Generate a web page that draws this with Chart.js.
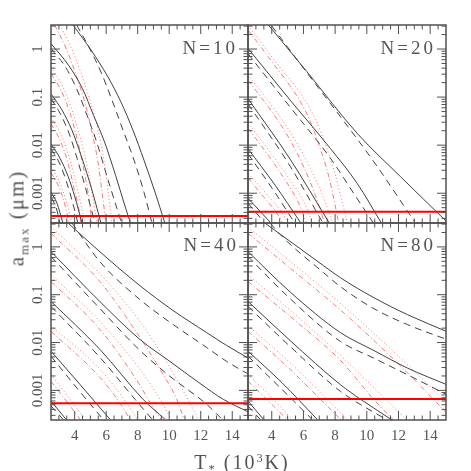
<!DOCTYPE html>
<html><head><meta charset="utf-8">
<script src="https://cdn.jsdelivr.net/npm/chart.js@4.4.0/dist/chart.umd.min.js"></script>
<style>
html,body{margin:0;padding:0;background:#fff;}
#wrap{position:relative;width:471px;height:471px;overflow:hidden;background:#fff;}
canvas{position:absolute;left:0;top:0;}
.lab{position:absolute;font-family:"Liberation Serif",serif;color:#555;white-space:nowrap;}
.nlab{font-size:19px;line-height:19px;letter-spacing:3px;}
.lab sub,.lab sup{font-size:0.62em;line-height:0;}
.lab sub{vertical-align:-0.35em;}
.lab sup{vertical-align:0.55em;}
#ytitle{left:17px;top:218px;font-size:21px;line-height:21px;letter-spacing:2px;transform:translate(-50%,-50%) rotate(-90deg);}
#xtitle{left:242px;top:462px;font-size:20px;line-height:20px;letter-spacing:2px;transform:translate(-50%,-50%);}
</style></head><body>
<div id="wrap">
<canvas id="c10" width="471" height="471"></canvas>
<canvas id="c20" width="471" height="471"></canvas>
<canvas id="c40" width="471" height="471"></canvas>
<canvas id="c80" width="471" height="471"></canvas>
<div class="lab nlab" style="right:233px;top:38px;">N=10</div>
<div class="lab nlab" style="right:35px;top:38px;">N=20</div>
<div class="lab nlab" style="right:232px;top:235px;">N=40</div>
<div class="lab nlab" style="right:35px;top:235px;">N=80</div>
<div class="lab" id="ytitle">a<sub>max</sub> (μm)</div>
<div class="lab" id="xtitle">T<sub>*</sub> (10<sup>3</sup>K)</div>
</div>
<script>
// ---- axis ticks ----
const X_TICKS = [4, 6, 8, 10, 12, 14];
const X_TICK_LABELS = ['4', '6', '8', '10', '12', '14'];
const Y_TICKS = [0.001, 0.01, 0.1, 1];
const Y_TICK_LABELS = ['0.001', '0.01', '0.1', '1'];
const X_MIN = 2.5, X_MAX = 15, Y_MIN = 2.4e-4, Y_MAX = 3.16;

// ---- horizontal red lines (one per panel) ----
const RED_LEVELS = { n10: 3.35e-4, n20: 4.1e-4, n40: 5.4e-4, n80: 6.6e-4 };

// ---- N=10 curves: [T (10^3 K), a_max (um)] ----
const n10Solid = [
  [[3.90,3.16],[5.04,0.953],[6.12,0.261],[6.94,0.0787],[7.70,0.0205],[8.40,0.00487],[9.10,0.00105],[9.73,0.000237]],
  [[2.5,1.29],[3.62,0.457],[4.50,0.149],[5.20,0.0416],[5.90,0.01155],[6.60,0.00234],[7.25,0.000471],[7.55,0.000237]],
  [[2.5,0.117],[3.20,0.0536],[3.83,0.0205],[4.40,0.00619],[4.91,0.00187],[5.42,0.000487],[5.67,0.000237]],
  [[2.5,0.01064],[3.07,0.00536],[3.58,0.00226],[4.02,0.000826],[4.47,0.000237]],
  [[2.5,0.00105],[2.88,0.000619],[3.26,0.000237]]
];
const n10Dashed = [
  [[4.13,3.16],[4.97,1.0],[5.67,0.332],[6.37,0.0866],[7.07,0.0205],[7.77,0.00487],[8.40,0.00105],[8.91,0.000237]],
  [[2.5,1.01],[3.42,0.422],[4.16,0.14],[4.78,0.0422],[5.40,0.01155],[6.03,0.00237],[6.68,0.000487],[6.98,0.000237]],
  [[2.5,0.0923],[3.07,0.0464],[3.64,0.0178],[4.15,0.00536],[4.59,0.00169],[5.04,0.000487],[5.29,0.000237]],
  [[2.5,0.00838],[3.01,0.00443],[3.45,0.00187],[3.83,0.000714],[4.21,0.000237]],
  [[2.5,0.000826],[2.82,0.000511],[3.07,0.000237]]
];
const n10Dotted = [
  [[3.05,3.16],[3.71,1.21],[4.34,0.365],[4.97,0.0866],[5.48,0.0205],[5.86,0.00487],[6.12,0.00115],[6.37,0.000237]],
  [[2.5,0.42],[3.20,0.178],[3.83,0.0536],[4.40,0.0127],[4.85,0.00301],[5.17,0.000787],[5.42,0.000237]],
  [[2.5,0.038],[3.20,0.0147],[3.71,0.00487],[4.15,0.00133],[4.47,0.000443],[4.66,0.000237]],
  [[2.5,0.0035],[3.07,0.00161],[3.45,0.000714],[3.83,0.000237]]
];
const n10DashDot = [
  [[2.73,3.16],[3.45,1.05],[4.09,0.287],[4.66,0.075],[5.10,0.0187],[5.48,0.00443],[5.74,0.00105],[5.99,0.000237]],
  [[2.5,0.31],[3.13,0.14],[3.71,0.0464],[4.21,0.01155],[4.59,0.00301],[4.91,0.000787],[5.10,0.000237]],
  [[2.5,0.028],[3.13,0.01155],[3.58,0.00422],[3.96,0.00127],[4.28,0.000443],[4.40,0.000237]],
  [[2.5,0.0027],[3.01,0.00133],[3.39,0.000562],[3.64,0.000237]]
];

// ---- N=20 curves ----
const n20Solid = [
  [[3.79,3.16],[6.22,0.337],[9.40,0.0175],[12.14,0.00219],[15.06,0.000252]],
  [[2.5,1.03],[5.16,0.0866],[7.70,0.00853],[9.40,0.00159],[10.88,0.000252]],
  [[2.5,0.0923],[5.16,0.00511],[7.60,0.000249]],
  [[2.5,0.00838],[4.21,0.00147],[5.80,0.000249]],
  [[2.5,0.000787],[3.90,0.000249]]
];
const n20Dashed = [
  [[4.0,3.01],[6.22,0.321],[8.34,0.0389],[10.45,0.00449],[13.03,0.000252]],
  [[2.5,0.798],[5.16,0.0619],[7.70,0.00536],[9.29,0.000866],[10.37,0.000252]],
  [[2.5,0.0724],[5.16,0.00365],[7.20,0.000249]],
  [[2.5,0.00659],[4.02,0.00127],[5.42,0.000249]],
  [[2.5,0.000619],[3.52,0.000249]]
];
const n20Dotted = [
  [[2.5,3.1],[4.42,0.457],[5.91,0.108],[6.75,0.0353],[7.49,0.00838],[8.02,0.00234],[8.45,0.00065],[8.76,0.000249]],
  [[2.5,0.29],[4.21,0.0536],[5.48,0.0127],[6.43,0.00332],[7.20,0.000908],[7.83,0.000249]],
  [[2.5,0.029],[3.90,0.00715],[5.16,0.00187],[6.05,0.00065],[6.56,0.000249]],
  [[2.5,0.0026],[3.58,0.00105],[4.53,0.000443],[5.04,0.000249]]
];
const n20DashDot = [
  [[2.5,2.5],[4.21,0.443],[5.55,0.11],[6.37,0.0348],[7.07,0.00826],[7.58,0.00237],[7.96,0.00065],[8.21,0.000249]],
  [[2.5,0.225],[4.02,0.0487],[5.16,0.0127],[6.05,0.00332],[6.75,0.000908],[7.32,0.000249]],
  [[2.5,0.0225],[3.77,0.00619],[4.85,0.00187],[5.67,0.00065],[6.18,0.000249]],
  [[2.5,0.0021],[3.45,0.000866],[4.28,0.000402],[4.66,0.000249]]
];

// ---- N=40 curves ----
const n40Solid = [
  [[3.58,3.16],[5.61,0.787],[8.15,0.154],[10.26,0.0464],[12.38,0.0161],[13.65,0.00866],[15.06,0.00464]],
  [[2.5,0.798],[5.61,0.0715],[8.15,0.01155],[10.05,0.00402],[11.95,0.0014],[13.43,0.00065],[15.06,0.000348]],
  [[2.5,0.0724],[5.61,0.00715],[8.34,0.00065],[9.73,0.000249]],
  [[2.5,0.00659],[4.34,0.00133],[6.24,0.000249]],
  [[2.5,0.000598],[3.45,0.000249]]
];
const n40Dashed = [
  [[3.83,3.16],[5.61,0.487],[8.15,0.0787],[10.26,0.0237],[12.38,0.00787],[13.65,0.00402],[15.06,0.00215]],
  [[2.5,0.628],[5.61,0.0511],[8.15,0.00681],[10.05,0.00196],[12.38,0.000511],[13.35,0.000249]],
  [[2.5,0.057],[5.61,0.00487],[7.83,0.00065],[8.91,0.000249]],
  [[2.5,0.00519],[4.21,0.00105],[5.80,0.000249]],
  [[2.5,0.000471],[3.26,0.000249]]
];
const n40Dotted = [
  [[2.5,2.65],[5.61,0.274],[8.15,0.0274],[9.42,0.0065],[10.48,0.00169],[11.32,0.000536],[11.83,0.000249]],
  [[2.5,0.261],[5.61,0.0274],[8.15,0.00274],[9.42,0.00065],[10.12,0.000249]],
  [[2.5,0.0226],[5.61,0.00274],[7.32,0.000536],[7.96,0.000249]],
  [[2.5,0.00215],[3.71,0.00065],[4.66,0.000249]]
];
const n40DashDot = [
  [[2.5,1.93],[5.61,0.187],[8.15,0.0127],[9.42,0.00274],[10.48,0.00065],[10.94,0.000249]],
  [[2.5,0.189],[5.61,0.0187],[8.15,0.00127],[8.66,0.00065],[9.49,0.000249]],
  [[2.5,0.0172],[5.61,0.00187],[6.88,0.000536],[7.51,0.000249]],
  [[2.5,0.00156],[3.58,0.000536],[4.34,0.000249]]
];

// ---- N=80 curves ----
const n80Solid = [
  [[3.58,3.12],[4.64,1.74],[7.28,0.402],[8.34,0.226],[10.45,0.0866],[12.57,0.0383],[15.06,0.0169]],
  [[2.5,0.798],[5.16,0.114],[8.34,0.0161],[10.45,0.00681],[12.57,0.00292],[15.06,0.00131]],
  [[2.5,0.0724],[5.16,0.011],[8.34,0.00131],[9.61,0.00065],[11.72,0.000226]],
  [[2.5,0.00659],[4.64,0.00145],[6.86,0.000249]],
  [[2.5,0.000598],[3.47,0.000249]]
];
const n80Dashed = [
  [[3.90,3.12],[4.74,1.54],[7.28,0.287],[8.34,0.147],[10.45,0.0511],[12.57,0.0237],[15.06,0.01155]],
  [[2.5,0.628],[5.16,0.0826],[8.34,0.0105],[10.45,0.00471],[12.57,0.00212],[15.06,0.000813]],
  [[2.5,0.057],[5.16,0.00826],[8.34,0.000953],[11.3,0.000237]],
  [[2.5,0.00519],[4.64,0.00105],[6.54,0.000249]],
  [[2.5,0.000471],[3.26,0.000249]]
];
const n80Dotted = [
  [[2.5,2.57],[5.48,0.41],[8.34,0.0659],[10.45,0.0156],[12.57,0.00343],[15.06,0.000543]],
  [[2.5,0.261],[5.48,0.0383],[8.34,0.00536],[11.19,0.00065],[12.53,0.000237]],
  [[2.5,0.0226],[5.16,0.00378],[7.28,0.00076],[8.76,0.000249]],
  [[2.5,0.00215],[4.11,0.00065],[5.27,0.000249]]
];
const n80DashDot = [
  [[2.5,1.93],[5.48,0.294],[8.34,0.048],[10.45,0.011],[12.57,0.00232],[15.06,0.000332]],
  [[2.5,0.189],[5.48,0.0287],[8.34,0.00422],[10.43,0.00065],[11.7,0.000237]],
  [[2.5,0.0172],[5.16,0.00274],[7.28,0.000554],[8.34,0.000249]],
  [[2.5,0.00156],[4.11,0.000471],[4.96,0.000249]]
];

// ---- styles ----
const FONT = 'Liberation Serif';
const TXT = '#555';
const FRAME = '#505050';
const STY = {
  solid:   { color: '#404040', dash: [], width: 1 },
  dashed:  { color: '#404040', dash: [7, 5], width: 1 },
  dotted:  { color: 'rgba(255,60,60,0.7)', dash: [1, 2.5], width: 1 },
  dashdot: { color: 'rgba(255,60,60,0.7)', dash: [5, 2.5, 1, 2.5], width: 1 }
};

const frameTicks = {
  id: 'frameTicks',
  afterDatasetsDraw(chart) {
    const { ctx, chartArea: a } = chart;
    const x = chart.scales.x, y = chart.scales.y;
    ctx.save();
    ctx.strokeStyle = FRAME;
    ctx.lineWidth = 1;
    ctx.beginPath();
    const MAJ = 9, MIN = 4.5;
    for (let v = 3; v < X_MAX; v += 0.5) {
      const px = x.getPixelForValue(v);
      const len = (X_TICKS.includes(v)) ? MAJ : MIN;
      ctx.moveTo(px, a.bottom); ctx.lineTo(px, a.bottom - len);
      ctx.moveTo(px, a.top); ctx.lineTo(px, a.top + len);
    }
    for (let d = -4; d <= 0; d++) {
      for (let m = 1; m <= 9; m++) {
        const v = m * Math.pow(10, d);
        if (v <= Y_MIN || v >= Y_MAX) continue;
        const py = y.getPixelForValue(v);
        const len = m === 1 ? MAJ : MIN;
        ctx.moveTo(a.left, py); ctx.lineTo(a.left + len, py);
        ctx.moveTo(a.right, py); ctx.lineTo(a.right - len, py);
      }
    }
    ctx.stroke();
    ctx.lineWidth = 1.5;
    ctx.strokeRect(a.left, a.top, a.right - a.left, a.bottom - a.top);
    ctx.restore();
  }
};

function makePanel(id, groups, redLevel, opt) {
  const datasets = [{
    data: [{ x: X_MIN, y: redLevel }, { x: X_MAX, y: redLevel }],
    borderColor: '#ff0000', borderWidth: 2, pointRadius: 0
  }];
  for (const [key, list] of groups) {
    const s = STY[key];
    for (const c of list) {
      datasets.push({
        data: c.map(p => ({ x: p[0], y: p[1] })),
        borderColor: s.color, borderDash: s.dash, borderWidth: s.width,
        pointRadius: 0, cubicInterpolationMode: 'monotone', fill: false
      });
    }
  }
  new Chart(document.getElementById(id), {
    type: 'line',
    data: { datasets },
    options: {
      responsive: false, animation: false, devicePixelRatio: 1, events: [],
      layout: { padding: opt.padding },
      plugins: { legend: { display: false }, tooltip: { enabled: false } },
      scales: {
        x: {
          type: 'linear', min: X_MIN, max: X_MAX, display: opt.showX, position: 'bottom',
          grid: { display: false, drawTicks: false }, border: { display: false },
          afterBuildTicks: s => { s.ticks = X_TICKS.map(v => ({ value: v })); },
          afterFit: s => { s.height = opt.showX ? 51 : 0; },
          ticks: { callback: (v, i) => X_TICK_LABELS[i], font: { family: FONT, size: 15 }, color: TXT,
                   padding: 7, minRotation: 0, maxRotation: 0, autoSkip: false }
        },
        y: {
          type: 'logarithmic', min: Y_MIN, max: Y_MAX, display: opt.showY, position: 'left',
          grid: { display: false, drawTicks: false }, border: { display: false },
          afterBuildTicks: s => { s.ticks = Y_TICKS.map(v => ({ value: v })); },
          afterFit: s => { s.width = opt.showY ? 51 : 0; },
          ticks: { callback: (v, i) => Y_TICK_LABELS[i], font: { family: FONT, size: 15 }, color: TXT,
                   padding: -4, minRotation: 90, maxRotation: 90, crossAlign: 'center', autoSkip: false }
        }
      }
    },
    plugins: [frameTicks]
  });
}

makePanel('c10', [['solid', n10Solid], ['dashed', n10Dashed], ['dotted', n10Dotted], ['dashdot', n10DashDot]],
  RED_LEVELS.n10, { showX: false, showY: true, padding: { left: 0, top: 25, right: 223, bottom: 248 } });
makePanel('c20', [['solid', n20Solid], ['dashed', n20Dashed], ['dotted', n20Dotted], ['dashdot', n20DashDot]],
  RED_LEVELS.n20, { showX: false, showY: false, padding: { left: 248, top: 25, right: 25, bottom: 248 } });
makePanel('c40', [['solid', n40Solid], ['dashed', n40Dashed], ['dotted', n40Dotted], ['dashdot', n40DashDot]],
  RED_LEVELS.n40, { showX: true, showY: true, padding: { left: 0, top: 223, right: 223, bottom: 0 } });
makePanel('c80', [['solid', n80Solid], ['dashed', n80Dashed], ['dotted', n80Dotted], ['dashdot', n80DashDot]],
  RED_LEVELS.n80, { showX: true, showY: false, padding: { left: 248, top: 223, right: 25, bottom: 0 } });
</script>
</body></html>
